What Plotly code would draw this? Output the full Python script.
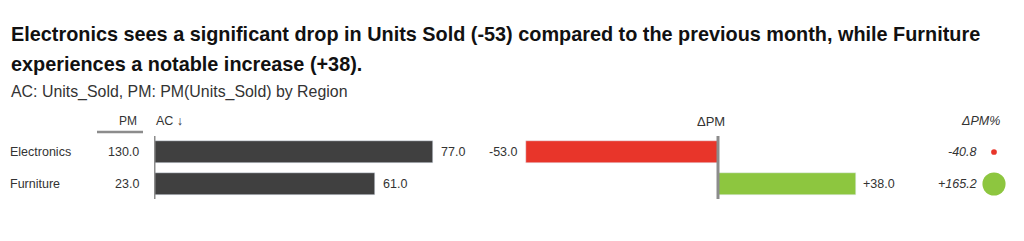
import plotly.graph_objects as go

# ---- data ----
categories = ["Electronics", "Furniture"]
pm_values = [130.0, 23.0]
ac_values = [77.0, 61.0]
delta_pm = [-53.0, 38.0]
delta_pct = [-40.8, 165.2]

title_line1 = "Electronics sees a significant drop in Units Sold (-53) compared to the previous month, while Furniture"
title_line2 = "experiences a notable increase (+38)."
subtitle = "AC: Units_Sold, PM: PM(Units_Sold) by Region"

# ---- styling ----
W, H = 1024, 241
FONT = "Liberation Sans, Arial, Helvetica, sans-serif"
TXT = "#333333"
DARK = "#404040"
RED = "#e8352a"
GREEN = "#8dc63f"
AXIS = "#8c8c8c"
SCALE = 3.62  # px per unit


def px(x):
    return x / W


def py(y):
    return 1 - y / H


fig = go.Figure()

# AC bars
fig.add_trace(go.Bar(
    y=categories, x=ac_values, orientation="h", marker_color=DARK,
    width=0.69, xaxis="x", yaxis="y", showlegend=False, hoverinfo="x+y"))

# delta PM bars
fig.add_trace(go.Bar(
    y=categories, x=delta_pm, orientation="h",
    marker_color=[RED if v < 0 else GREEN for v in delta_pm],
    width=0.69, xaxis="x2", yaxis="y", showlegend=False, hoverinfo="x+y"))

# delta PM % dots
fig.add_trace(go.Scatter(
    y=categories, x=["ΔPM%"] * len(categories), mode="markers",
    cliponaxis=False,
    marker=dict(size=[abs(v) * 0.14 for v in delta_pct], sizemode="diameter",
                opacity=1,
                color=[RED if v < 0 else GREEN for v in delta_pct], line=dict(width=0)),
    xaxis="x3", yaxis="y", showlegend=False, hoverinfo="text",
    text=[f"{v:+.1f}" for v in delta_pct]))

ac_l, ac_r = 154, 480
d_l, d_r, d_zero = 500, 900, 718

fig.update_layout(
    width=W, height=H, margin=dict(l=0, r=0, t=0, b=0),
    paper_bgcolor="white", plot_bgcolor="rgba(0,0,0,0)",
    bargap=0,
    font=dict(family=FONT, color=TXT, size=12),
    xaxis=dict(domain=[px(ac_l), px(ac_r)], range=[0, (ac_r - ac_l) / SCALE],
               visible=False, fixedrange=True),
    xaxis2=dict(domain=[px(d_l), px(d_r)],
                range=[-(d_zero - d_l) / SCALE, (d_r - d_zero) / SCALE],
                visible=False, anchor="y", fixedrange=True),
    xaxis3=dict(domain=[px(984), px(1004)], type="category",
                visible=False, anchor="y", fixedrange=True),
    yaxis=dict(domain=[py(200), py(136)], type="category",
               categoryorder="array", categoryarray=categories,
               range=[1.5, -0.5], visible=False, fixedrange=True),
)

shapes = []
# axis lines
shapes.append(dict(type="line", xref="x", yref="paper", x0=0, x1=0,
                   y0=py(199), y1=py(136), line=dict(color=AXIS, width=3), layer="above"))
shapes.append(dict(type="line", xref="x2", yref="paper", x0=0, x1=0,
                   y0=py(199), y1=py(136), line=dict(color=AXIS, width=3), layer="above"))
# PM header underline
shapes.append(dict(type="line", xref="paper", yref="paper", x0=px(97), x1=px(143),
                   y0=py(132), y1=py(132), line=dict(color=AXIS, width=2.5)))
fig.update_layout(shapes=shapes)

ann = []
# titles
ann.append(dict(text=f"<b>{title_line1}</b>", xref="paper", yref="paper", x=px(9), y=py(34.5),
                xanchor="left", yanchor="middle", showarrow=False,
                font=dict(size=19.85, color="#111111")))
ann.append(dict(text=f"<b>{title_line2}</b>", xref="paper", yref="paper", x=px(9), y=py(64.5),
                xanchor="left", yanchor="middle", showarrow=False,
                font=dict(size=19.85, color="#111111")))
ann.append(dict(text=subtitle, xref="paper", yref="paper", x=px(9), y=py(92),
                xanchor="left", yanchor="middle", showarrow=False,
                font=dict(size=15.9, color=TXT)))
# headers
hy = py(121)
ann.append(dict(text="PM", xref="paper", yref="paper", x=px(139), y=hy,
                xanchor="right", yanchor="middle", showarrow=False, font=dict(size=12)))
ann.append(dict(text="AC ↓", xref="paper", yref="paper", x=px(154), y=hy,
                xanchor="left", yanchor="middle", showarrow=False, font=dict(size=12.5)))
ann.append(dict(text="ΔPM", xref="x2", yref="paper", x=0, y=hy, xshift=-7,
                xanchor="center", yanchor="middle", showarrow=False, font=dict(size=13)))
ann.append(dict(text="<i>ΔPM%</i>", xref="paper", yref="paper", x=px(1002), y=hy,
                xanchor="right", yanchor="middle", showarrow=False, font=dict(size=12.5)))

for i, cat in enumerate(categories):
    ann.append(dict(text=cat, xref="paper", yref="y", x=px(8), y=cat,
                    xanchor="left", yanchor="middle", showarrow=False, font=dict(size=12.5)))
    ann.append(dict(text=f"{pm_values[i]:.1f}", xref="paper", yref="y", x=px(141), y=cat,
                    xanchor="right", yanchor="middle", showarrow=False, font=dict(size=12.5)))
    ann.append(dict(text=f"{ac_values[i]:.1f}", xref="x", yref="y", x=ac_values[i], y=cat,
                    xanchor="left", yanchor="middle", xshift=6, showarrow=False,
                    font=dict(size=12.5)))
    d = delta_pm[i]
    ann.append(dict(text=f"{d:+.1f}", xref="x2", yref="y", x=d, y=cat,
                    xanchor="left" if d >= 0 else "right", yanchor="middle",
                    xshift=5 if d >= 0 else -6, showarrow=False, font=dict(size=12.5)))
    ann.append(dict(text=f"<i>{delta_pct[i]:+.1f}</i>", xref="paper", yref="y", x=px(979), y=cat,
                    xanchor="right", yanchor="middle", showarrow=False, font=dict(size=12.5)))

fig.update_layout(annotations=ann)
fig.write_html("out.html", config={"displayModeBar": False})
